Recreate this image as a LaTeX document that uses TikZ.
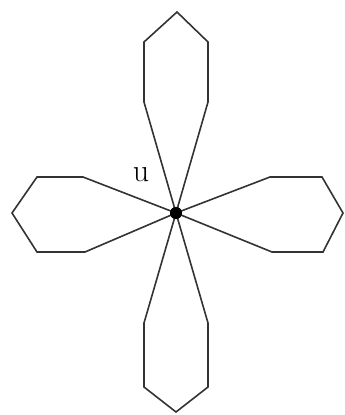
\documentclass[tikz,border=0pt]{standalone}
\begin{document}
\begin{tikzpicture}[x=1pt,y=-1pt,
  petal/.style={draw=black!80,line width=1.6pt,line join=miter},
  vdot/.style={circle,fill=black,inner sep=0pt,minimum size=12pt}]
\useasboundingbox (0,0) rectangle (345,415);
\node[vdot] (c) at (176,213) {};
% top petal
\coordinate (t1) at (144,102); \coordinate (t2) at (144,42); \coordinate (t3) at (177,12);
\coordinate (t4) at (208,42); \coordinate (t5) at (208,102);
\draw[petal] (c.center) -- (t1) -- (t2) -- (t3) -- (t4) -- (t5) -- cycle;
% bottom petal
\coordinate (b1) at (144,323); \coordinate (b2) at (144,387); \coordinate (b3) at (176,412);
\coordinate (b4) at (208,387); \coordinate (b5) at (208,323);
\draw[petal] (c.center) -- (b1) -- (b2) -- (b3) -- (b4) -- (b5) -- cycle;
% left petal
\coordinate (l1) at (83,177); \coordinate (l2) at (37,177); \coordinate (l3) at (12,213);
\coordinate (l4) at (37,252); \coordinate (l5) at (85,252);
\draw[petal] (c.center) -- (l1) -- (l2) -- (l3) -- (l4) -- (l5) -- cycle;
% right petal
\coordinate (r1) at (270,177); \coordinate (r2) at (322,177); \coordinate (r3) at (343,213);
\coordinate (r4) at (323,252); \coordinate (r5) at (272,252);
\draw[petal] (c.center) -- (r1) -- (r2) -- (r3) -- (r4) -- (r5) -- cycle;
\node[vdot] at (c) {};
\node[inner sep=0pt,font=\fontsize{32}{32}\selectfont] (u) at (141,175) {u};
\end{tikzpicture}
\end{document}
